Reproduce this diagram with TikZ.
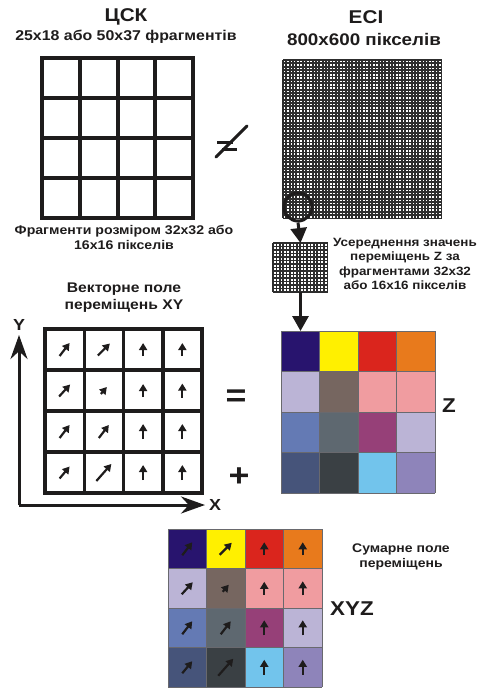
\documentclass[tikz,border=0pt]{standalone}
\usepackage{fontspec}
\setmainfont{Liberation Sans}[FakeStretch=1.12]
\usetikzlibrary{arrows.meta,positioning,calc}
\definecolor{fdInk}   {RGB}{ 30, 28, 28}
\definecolor{fdMesh}  {RGB}{ 45, 45, 45}
\definecolor{fdLine}  {RGB}{105,105,110}
\definecolor{zNavy}   {RGB}{ 40, 20,110}
\definecolor{zYellow} {RGB}{255,240,  0}
\definecolor{zRed}    {RGB}{218, 37, 29}
\definecolor{zOrange} {RGB}{232,122, 28}
\definecolor{zLilac}  {RGB}{187,180,214}
\definecolor{zTaupe}  {RGB}{118,102, 96}
\definecolor{zPink}   {RGB}{240,156,160}
\definecolor{zSteel}  {RGB}{100,122,180}
\definecolor{zSlate}  {RGB}{ 94,104,112}
\definecolor{zPlum}   {RGB}{150, 64,120}
\definecolor{zDusk}   {RGB}{ 70, 84,122}
\definecolor{zCoal}   {RGB}{ 58, 64, 68}
\definecolor{zSky}    {RGB}{114,196,236}
\definecolor{zViolet} {RGB}{142,132,186}
\newcommand\setfs[1]{\fontsize{#1}{1.2\dimexpr#1pt\relax}\selectfont\bfseries}
% cell / colour / vector tables (column, row, ...)
\def\zcolors{0/0/zNavy, 1/0/zYellow, 2/0/zRed,   3/0/zOrange,
             0/1/zLilac,1/1/zTaupe,  2/1/zPink,  3/1/zPink,
             0/2/zSteel,1/2/zSlate,  2/2/zPlum,  3/2/zLilac,
             0/3/zDusk, 1/3/zCoal,   2/3/zSky,   3/3/zViolet}
\def\vecdata{0/0/10/-13, 1/0/12/-12, 2/0/0/-13, 3/0/0/-13,
             0/1/11/-12, 1/1/6/-7,   2/1/0/-13, 3/1/0/-14,
             0/2/10/-13, 1/2/10/-13, 2/2/0/-15, 3/2/0/-15,
             0/3/10/-12, 1/3/15/-17, 2/3/0/-15, 3/3/0/-15}
\tikzset{
  lbl/.style={inner sep=0pt, align=center, text=fdInk},
  box/.style={inner sep=0pt, outer sep=0pt},
  gridline/.style={line width=4pt, fdInk, line cap=rect},
  mesh/.style={line width=1.8pt, fdMesh},
  vec/.style={-{Triangle[length=7pt,width=8pt]}, line width=2.2pt, fdInk},
  bigarrow/.style={-{Triangle[length=15pt,width=16pt]}, line width=3pt, fdInk},
  axis/.style={-{Stealth[length=24pt,width=17pt]}, line width=3pt, fdInk},
  cell/.style={draw=fdLine, line width=0.6pt},
}
\begin{document}
\begin{tikzpicture}[x=1pt,y=-1pt]
\useasboundingbox (0,0) rectangle (480,689);
% Headings
\node[lbl,font=\setfs{18.5}] (cskTitle) at (126,17) {ЦСК};
\node[lbl,font=\setfs{14.2}] (cskSub) at (126,37) {25x18 або 50x37 фрагментів};
\node[lbl,font=\setfs{18.5}] (eciTitle) at (366,17) {ECI};
\node[lbl,font=\setfs{16.8}] (eciSub) at (364,39) {800x600 пікселів};
% CSK frame grid
\foreach \i in {0,...,4}{
  \draw[gridline] (42+\i*37.75,58) -- (42+\i*37.75,218);
  \draw[gridline] (42,58+\i*40) -- (193,58+\i*40);
}
\node[lbl,font=\setfs{12.6}] (fragNote) at (124,237)
  {Фрагменти розміром 32x32 або\\16x16 пікселів};
% not-equal sign
\draw[line width=3pt,fdInk] (217,142) -- (233,142);
\draw[line width=3pt,fdInk] (222,149) -- (237,149);
\draw[line width=3pt,fdInk,line cap=round] (216,157) -- (247,126);
% ECI pixel mesh
\foreach \i in {0,...,48}{
  \draw[mesh] (283+\i*3.3,60) -- (283+\i*3.3,218);
  \draw[mesh] (283,60+\i*3.3) -- (442,60+\i*3.3);
}
\node[circle,draw=fdInk,line width=3pt,minimum size=28pt,inner sep=0pt]
  (lens) at (298,207) {};
% averaged fragment
\foreach \i in {0,...,16}
  \draw[mesh,line width=1.6pt] (273+\i*3.4,243) -- (273+\i*3.4,292);
\foreach \i in {0,...,14}
  \draw[mesh,line width=1.6pt] (273,243+\i*3.5) -- (328,243+\i*3.5);
\node[box,minimum width=55pt,minimum height=49pt] (avg) at (300.5,267.5) {};
\node[lbl,font=\setfs{12}] (avgNote) at (405,264)
  {Усереднення значень\\переміщень Z за\\фрагментами 32x32\\або 16x16 пікселів};
\draw[bigarrow] (lens.south) -- (avg.north);
% Z field
\node[box,minimum width=154pt,minimum height=162pt] (zfield) at (358,412) {};
\foreach \c/\r/\col in \zcolors
  \fill[\col] (281+\c*38.5,331+\r*40.5) rectangle ++(38.5,40.5);
\foreach \i in {0,...,4}{
  \draw[fdLine,line width=0.6pt] (281+\i*38.5,331) -- (281+\i*38.5,493);
  \draw[fdLine,line width=0.6pt] (281,331+\i*40.5) -- (435,331+\i*40.5);
}
\draw[bigarrow] (avg.south) -- (avg.south |- zfield.north);
\node[lbl,font=\setfs{20}] (zLab) at (449,406) {Z};
% XY vector field
\node[lbl,font=\setfs{14}] (xyNote) at (124,298) {Векторне поле\\переміщень XY};
\foreach \i in {0,...,4}{
  \draw[gridline,line width=3.5pt] (45+\i*39.25,329) -- (45+\i*39.25,493);
  \draw[gridline,line width=3.5pt] (45,329+\i*41) -- (202,329+\i*41);
}
\foreach \c/\r/\dx/\dy in \vecdata
  \draw[vec] (64.6+\c*39.25-\dx/2,349.5+\r*41-\dy/2) -- ++(\dx,\dy);
\coordinate (orig) at (19,505);
\coordinate (ytip) at (19,335);
\coordinate (xtip) at (205,505);
\draw[axis] (orig) -- (ytip);
\draw[axis] (orig) -- (xtip);
\node[lbl,font=\setfs{16}] (yLab) at (19,325) {Y};
\node[lbl,font=\setfs{16}] (xLab) at (215,505) {X};
\node[lbl,font=\setfs{32}] (eqSign) at (236,398) {=};
\node[lbl,font=\setfs{32}] (plusSign) at (239,477) {+};
% XYZ summed field
\foreach \c/\r/\col in \zcolors
  \fill[\col] (168+\c*38.5,529+\r*39.5) rectangle ++(38.5,39.5);
\foreach \i in {0,...,4}{
  \draw[fdLine,line width=0.6pt] (168+\i*38.5,529) -- (168+\i*38.5,687);
  \draw[fdLine,line width=0.6pt] (168,529+\i*39.5) -- (322,529+\i*39.5);
}
\foreach \c/\r/\dx/\dy in \vecdata
  \draw[vec] (187.25+\c*38.5-\dx/2,548.75+\r*39.5-\dy/2) -- ++(\dx,\dy);
\node[lbl,font=\setfs{12.5}] (sumNote) at (401,557) {Сумарне поле\\переміщень};
\node[lbl,font=\setfs{20}] (xyzLab) at (352,609) {XYZ};
\end{tikzpicture}
\end{document}
